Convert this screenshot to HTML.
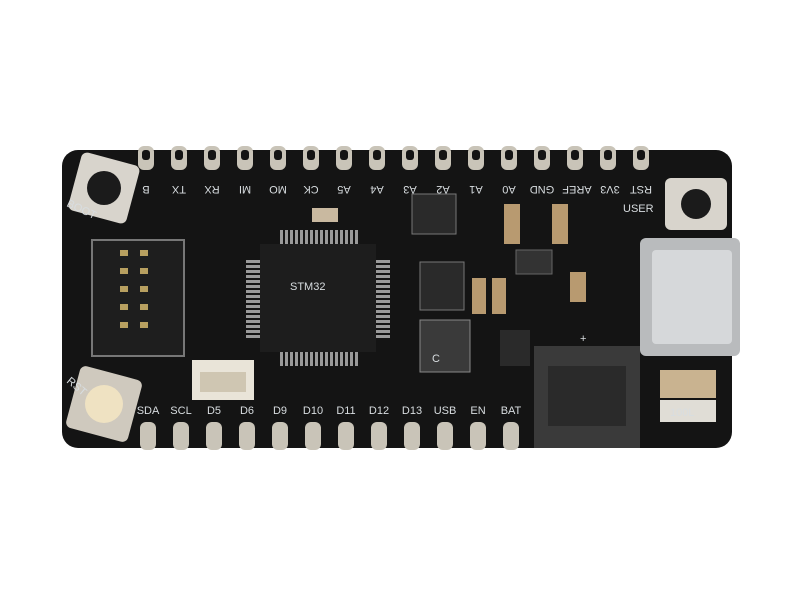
<!DOCTYPE html>
<html><head><style>
html,body{margin:0;padding:0;background:#fff;width:800px;height:600px;overflow:hidden}
text{font-family:"Liberation Sans",sans-serif;fill:#d8dde0;font-size:11px}
</style></head><body>
<svg width="800" height="600" viewBox="0 0 800 600" xmlns="http://www.w3.org/2000/svg">
<defs>
<pattern id="ph" width="5" height="10" patternUnits="userSpaceOnUse"><rect width="3" height="10" fill="#9a9a9a"/></pattern>
<pattern id="pv" width="10" height="5" patternUnits="userSpaceOnUse"><rect width="10" height="3" fill="#9a9a9a"/></pattern>
</defs>
<rect x="62" y="150" width="670" height="298" rx="16" fill="#141414"/>
<g fill="#c9c4b8">
<rect x="138" y="146" width="16" height="24" rx="6"/><rect x="171" y="146" width="16" height="24" rx="6"/>
<rect x="204" y="146" width="16" height="24" rx="6"/><rect x="237" y="146" width="16" height="24" rx="6"/>
<rect x="270" y="146" width="16" height="24" rx="6"/><rect x="303" y="146" width="16" height="24" rx="6"/>
<rect x="336" y="146" width="16" height="24" rx="6"/><rect x="369" y="146" width="16" height="24" rx="6"/>
<rect x="402" y="146" width="16" height="24" rx="6"/><rect x="435" y="146" width="16" height="24" rx="6"/>
<rect x="468" y="146" width="16" height="24" rx="6"/><rect x="501" y="146" width="16" height="24" rx="6"/>
<rect x="534" y="146" width="16" height="24" rx="6"/><rect x="567" y="146" width="16" height="24" rx="6"/>
<rect x="600" y="146" width="16" height="24" rx="6"/><rect x="633" y="146" width="16" height="24" rx="6"/>
</g>
<g fill="#141414">
<rect x="142" y="150" width="8" height="10" rx="3"/><rect x="175" y="150" width="8" height="10" rx="3"/>
<rect x="208" y="150" width="8" height="10" rx="3"/><rect x="241" y="150" width="8" height="10" rx="3"/>
<rect x="274" y="150" width="8" height="10" rx="3"/><rect x="307" y="150" width="8" height="10" rx="3"/>
<rect x="340" y="150" width="8" height="10" rx="3"/><rect x="373" y="150" width="8" height="10" rx="3"/>
<rect x="406" y="150" width="8" height="10" rx="3"/><rect x="439" y="150" width="8" height="10" rx="3"/>
<rect x="472" y="150" width="8" height="10" rx="3"/><rect x="505" y="150" width="8" height="10" rx="3"/>
<rect x="538" y="150" width="8" height="10" rx="3"/><rect x="571" y="150" width="8" height="10" rx="3"/>
<rect x="604" y="150" width="8" height="10" rx="3"/><rect x="637" y="150" width="8" height="10" rx="3"/>
</g>
<g text-anchor="middle">
<text transform="translate(146,186) rotate(180)">B</text>
<text transform="translate(179,186) rotate(180)">TX</text>
<text transform="translate(212,186) rotate(180)">RX</text>
<text transform="translate(245,186) rotate(180)">MI</text>
<text transform="translate(278,186) rotate(180)">MO</text>
<text transform="translate(311,186) rotate(180)">CK</text>
<text transform="translate(344,186) rotate(180)">A5</text>
<text transform="translate(377,186) rotate(180)">A4</text>
<text transform="translate(410,186) rotate(180)">A3</text>
<text transform="translate(443,186) rotate(180)">A2</text>
<text transform="translate(476,186) rotate(180)">A1</text>
<text transform="translate(509,186) rotate(180)">A0</text>
<text transform="translate(542,186) rotate(180)">GND</text>
<text transform="translate(577,186) rotate(180)">AREF</text>
<text transform="translate(610,186) rotate(180)">3V3</text>
<text transform="translate(641,186) rotate(180)">RST</text>
</g>
<g fill="#c9c4b8">
<rect x="140" y="422" width="16" height="28" rx="6"/><rect x="173" y="422" width="16" height="28" rx="6"/>
<rect x="206" y="422" width="16" height="28" rx="6"/><rect x="239" y="422" width="16" height="28" rx="6"/>
<rect x="272" y="422" width="16" height="28" rx="6"/><rect x="305" y="422" width="16" height="28" rx="6"/>
<rect x="338" y="422" width="16" height="28" rx="6"/><rect x="371" y="422" width="16" height="28" rx="6"/>
<rect x="404" y="422" width="16" height="28" rx="6"/><rect x="437" y="422" width="16" height="28" rx="6"/>
<rect x="470" y="422" width="16" height="28" rx="6"/><rect x="503" y="422" width="16" height="28" rx="6"/>
</g>
<g text-anchor="middle">
<text x="148" y="414">SDA</text><text x="181" y="414">SCL</text><text x="214" y="414">D5</text>
<text x="247" y="414">D6</text><text x="280" y="414">D9</text><text x="313" y="414">D10</text>
<text x="346" y="414">D11</text><text x="379" y="414">D12</text><text x="412" y="414">D13</text>
<text x="445" y="414">USB</text><text x="478" y="414">EN</text><text x="511" y="414">BAT</text>
</g>
<rect x="74" y="158" width="60" height="60" rx="6" fill="#d8d4cc" transform="rotate(15 104 188)"/>
<circle cx="104" cy="188" r="17" fill="#1b1b1b"/>
<text x="66" y="206" transform="rotate(25 66 206)">BOOT</text>
<rect x="665" y="178" width="62" height="52" rx="6" fill="#d8d4cc"/>
<circle cx="696" cy="204" r="15" fill="#1b1b1b"/>
<text x="623" y="212">USER</text>
<rect x="72" y="372" width="64" height="64" rx="6" fill="#cfc9be" transform="rotate(15 104 404)"/>
<circle cx="104" cy="404" r="19" fill="#efe2c2"/>
<text x="66" y="382" transform="rotate(40 66 382)">RST</text>
<rect x="92" y="240" width="92" height="116" fill="#1e1e1e" stroke="#777" stroke-width="2"/>
<g fill="#b8a060">
<rect x="120" y="250" width="8" height="6"/><rect x="140" y="250" width="8" height="6"/>
<rect x="120" y="268" width="8" height="6"/><rect x="140" y="268" width="8" height="6"/>
<rect x="120" y="286" width="8" height="6"/><rect x="140" y="286" width="8" height="6"/>
<rect x="120" y="304" width="8" height="6"/><rect x="140" y="304" width="8" height="6"/>
<rect x="120" y="322" width="8" height="6"/><rect x="140" y="322" width="8" height="6"/>
</g>
<rect x="192" y="360" width="62" height="40" fill="#e9e4d8"/>
<rect x="200" y="372" width="46" height="20" fill="#cfc6b2"/>
<rect x="278" y="230" width="80" height="14" fill="url(#ph)"/>
<rect x="278" y="352" width="80" height="14" fill="url(#ph)"/>
<rect x="246" y="258" width="14" height="80" fill="url(#pv)"/>
<rect x="376" y="258" width="14" height="80" fill="url(#pv)"/>
<rect x="260" y="244" width="116" height="108" fill="#1d1d1d"/>
<text x="290" y="290" font-size="9" fill="#777">STM32</text>
<rect x="412" y="194" width="44" height="40" fill="#2a2a2a" stroke="#777"/>
<rect x="420" y="262" width="44" height="48" fill="#2a2a2a" stroke="#777"/>
<rect x="420" y="320" width="50" height="52" fill="#3a3a3a" stroke="#888"/>
<text x="432" y="362" font-size="12">C</text>
<rect x="516" y="250" width="36" height="24" fill="#333" stroke="#666"/>
<rect x="500" y="330" width="30" height="36" fill="#2a2a2a"/>
<rect x="312" y="208" width="26" height="14" fill="#c9b9a0"/>
<rect x="504" y="204" width="16" height="40" fill="#b89a70"/>
<rect x="552" y="204" width="16" height="40" fill="#b89a70"/>
<rect x="472" y="278" width="14" height="36" fill="#b89a70"/>
<rect x="492" y="278" width="14" height="36" fill="#b89a70"/>
<rect x="570" y="272" width="16" height="30" fill="#b89a70"/>
<rect x="640" y="238" width="100" height="118" rx="6" fill="#b9bbbd"/>
<rect x="652" y="250" width="80" height="94" rx="4" fill="#d6d8da"/>
<rect x="534" y="346" width="106" height="102" fill="#3a3a3a"/>
<rect x="548" y="366" width="78" height="60" fill="#2a2a2a"/>
<text x="580" y="342" font-size="13">+</text>
<rect x="660" y="370" width="56" height="28" fill="#c9b390"/>
<rect x="660" y="400" width="56" height="22" fill="#e0ddd6"/>
<text x="670" y="416" font-size="10" fill="#222">100L</text>
</svg>
</body></html>
